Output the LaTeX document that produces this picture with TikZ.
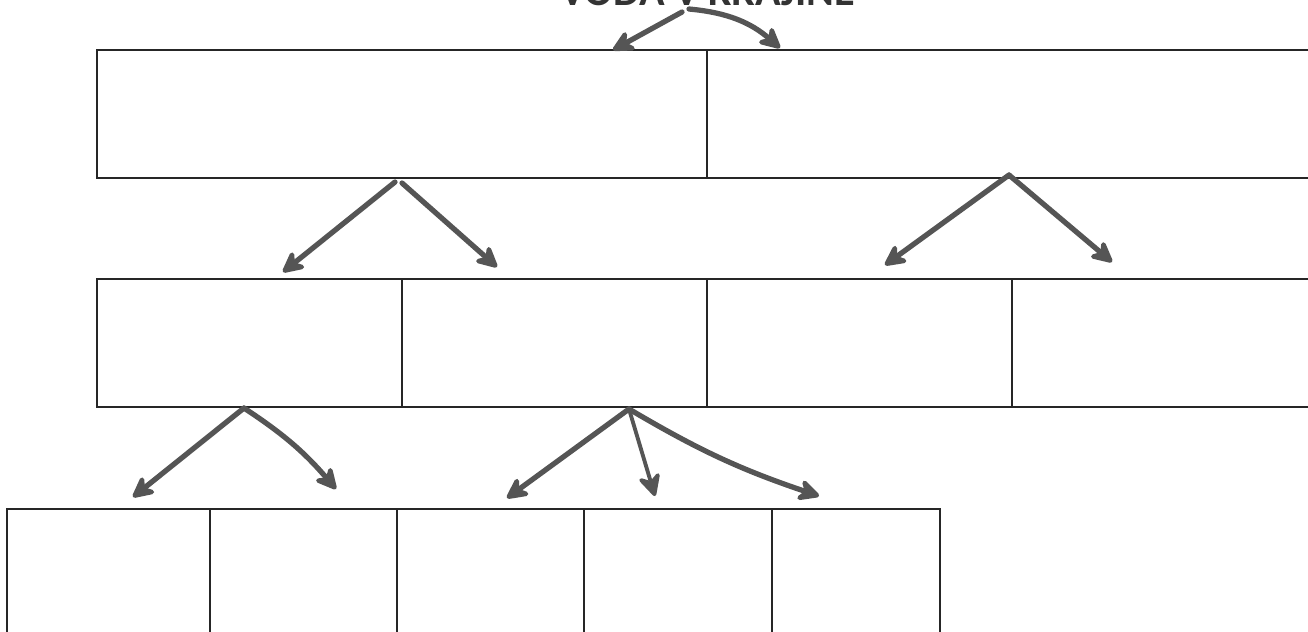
\documentclass[tikz,border=0pt]{standalone}
\usepackage{fontspec}
\setmainfont{Carlito}
\usetikzlibrary{positioning,calc,arrows.meta}
\definecolor{marker}{HTML}{555555}
\tikzset{
    cell/.style={draw=black!85, line width=0.5pt, inner sep=0pt, outer sep=0pt, minimum height=1.28cm},
    tall/.style={cell, minimum height=1.91cm},
    arr/.style={draw=marker, line width=1.5pt, line cap=round, -{Stealth[length=2.7mm,width=2.7mm,inset=0.9mm,round]}}
}

\begin{document}
\begin{tikzpicture}
    \useasboundingbox (0,0) rectangle (13.08,-6.31);
    \node [anchor=base, text=black!80, font=\fontsize{12}{14}\selectfont\bfseries] (title) at (7.08,-0.055) {VODA V KRAJINE};
    \node [cell, minimum width=6.10cm, anchor=north west] (a1) at (0.97,-0.50) {};
    \node [cell, minimum width=6.20cm, right=0pt of a1] (a2) {};
    \node [cell, minimum width=3.05cm, anchor=north west] (b1) at (0.97,-2.79) {};
    \node [cell, minimum width=3.05cm, right=0pt of b1] (b2) {};
    \node [cell, minimum width=3.05cm, right=0pt of b2] (b3) {};
    \node [cell, minimum width=3.10cm, right=0pt of b3] (b4) {};
    \node [tall, minimum width=2.03cm, anchor=north west] (c1) at (0.07,-5.09) {};
    \node [tall, minimum width=1.87cm, right=0pt of c1] (c2) {};
    \node [tall, minimum width=1.87cm, right=0pt of c2] (c3) {};
    \node [tall, minimum width=1.88cm, right=0pt of c3] (c4) {};
    \node [tall, minimum width=1.68cm, right=0pt of c4] (c5) {};
    \draw [arr] ($(title.base)+(-0.26,-0.065)$) -- ($(a1.north east)+(-0.94,0)$);
    \draw [arr] ($(title.base)+(-0.19,-0.035)$) to [bend left=18] ($(a1.north east)+(0.73,0.02)$);
    \draw [arr] ($(a1.south)+(-0.07,-0.04)$) -- ($(b1.north east)+(-1.19,0.07)$);
    \draw [arr] ($(a1.south)+(0,-0.05)$) -- ($(b2.north west)+(0.95,0.12)$);
    \draw [arr] ($(a2.south west)+(3.02,0.03)$) -- ($(b3.north east)+(-1.27,0.14)$);
    \draw [arr] ($(a2.south west)+(3.02,0.03)$) -- ($(b3.north east)+(1.00,0.17)$);
    \draw [arr] ($(b1.south)+(-0.055,-0.01)$) -- ($(c2.north west)+(-0.77,0.12)$);
    \draw [arr] ($(b1.south)+(-0.055,-0.01)$) to [bend left=8] ($(c2.north west)+(1.26,0.20)$);
    \draw [arr] ($(b2.south east)+(-0.78,-0.02)$) -- ($(c4.north west)+(-0.77,0.11)$);
    \draw [arr, line width=1.1pt] ($(b2.south east)+(-0.78,-0.02)$) -- ($(c4.north west)+(0.71,0.13)$);
    \draw [arr] ($(b2.south east)+(-0.78,-0.02)$) to [bend right=6] ($(c4.north west)+(2.35,0.13)$);
  \end{tikzpicture}
\end{document}
